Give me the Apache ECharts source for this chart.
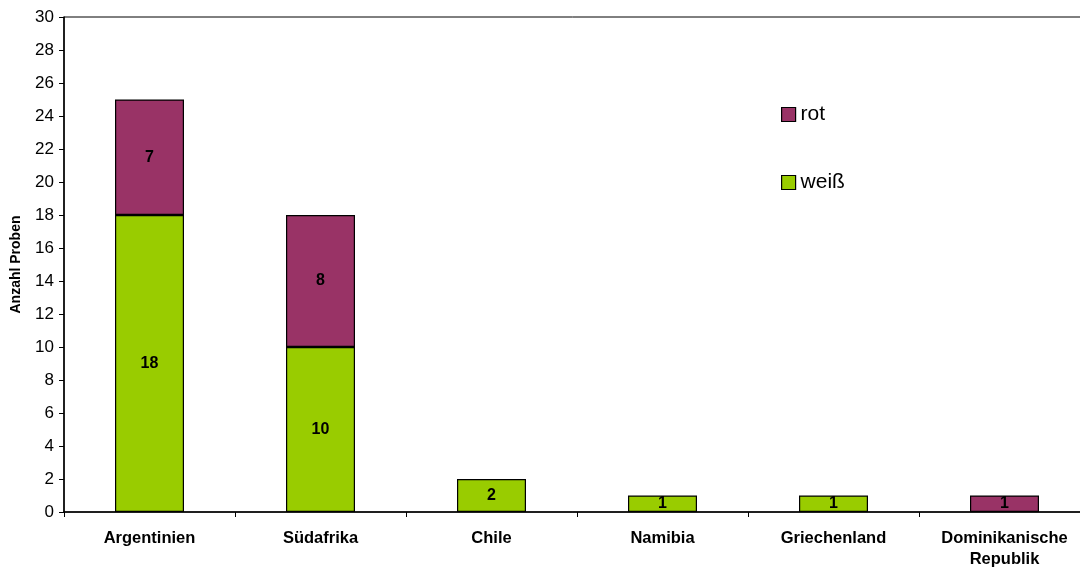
<!DOCTYPE html>
<html>
<head>
<meta charset="utf-8">
<script src="https://cdn.jsdelivr.net/npm/echarts@6/dist/echarts.min.js"></script>
<style>
html,body{margin:0;padding:0;background:#fff;}
#chart{width:1080px;height:568px;}
</style>
</head>
<body>
<div id="chart"></div>
<script>
const categories = ['Argentinien', 'Südafrika', 'Chile', 'Namibia', 'Griechenland', 'Dominikanische\nRepublik'];
const weissValues = [18, 10, 2, 1, 1, 0];
const rotValues = [7, 8, 0, 0, 0, 1];
const yTicks = { min: 0, max: 30, interval: 2 };

const toData = arr => arr.map(v => (v === 0 ? '-' : v));
const FONT = '"Liberation Sans", Arial, sans-serif';

const chart = echarts.init(document.getElementById('chart'));
const labelCfg = {
  show: true,
  position: 'inside',
  color: '#000',
  fontFamily: FONT,
  fontWeight: 'bold',
  fontSize: 16
};
chart.setOption({
  animation: false,
  backgroundColor: '#fff',
  grid: {
    left: 64, top: 17, width: 1026, height: 495,
    outerBoundsMode: 'none',
    containLabel: false,
    show: true, borderColor: '#000', borderWidth: 1, backgroundColor: 'transparent'
  },
  legend: {
    orient: 'vertical',
    left: 776, top: 99,
    itemWidth: 14, itemHeight: 14, itemGap: 47,
    icon: 'rect',
    data: ['rot', 'weiß'],
    textStyle: { fontFamily: FONT, fontSize: 21, color: '#000', padding: [0, 0, 0, 0] },
    itemStyle: { borderColor: '#000', borderWidth: 1.2 }
  },
  xAxis: {
    type: 'category',
    data: categories,
    axisLine: { lineStyle: { color: '#000', width: 1.5 } },
    axisTick: { show: true, alignWithLabel: false, length: 5, lineStyle: { color: '#000' } },
    axisLabel: {
      color: '#000', fontFamily: FONT, fontWeight: 'bold', fontSize: 16.5,
      margin: 16, lineHeight: 21, interval: 0
    }
  },
  yAxis: {
    type: 'value',
    min: yTicks.min, max: yTicks.max, interval: yTicks.interval,
    name: 'Anzahl Proben',
    nameLocation: 'middle',
    nameGap: 41,
    nameTextStyle: { color: '#000', fontFamily: FONT, fontWeight: 'bold', fontSize: 14 },
    axisLine: { show: true, lineStyle: { color: '#000', width: 1.5 } },
    axisTick: { show: true, length: 5, lineStyle: { color: '#000' } },
    splitLine: { show: false },
    axisLabel: { color: '#000', fontFamily: FONT, fontSize: 17, margin: 10 }
  },
  series: [
    {
      name: 'weiß', type: 'bar', stack: 'total',
      data: toData(weissValues),
      barWidth: 69,
      itemStyle: { color: '#99CC00', borderColor: '#000', borderWidth: 1.2 },
      label: labelCfg
    },
    {
      name: 'rot', type: 'bar', stack: 'total',
      data: toData(rotValues),
      barWidth: 69,
      itemStyle: { color: '#993366', borderColor: '#000', borderWidth: 1.2 },
      label: labelCfg
    }
  ]
});
</script>
</body>
</html>
